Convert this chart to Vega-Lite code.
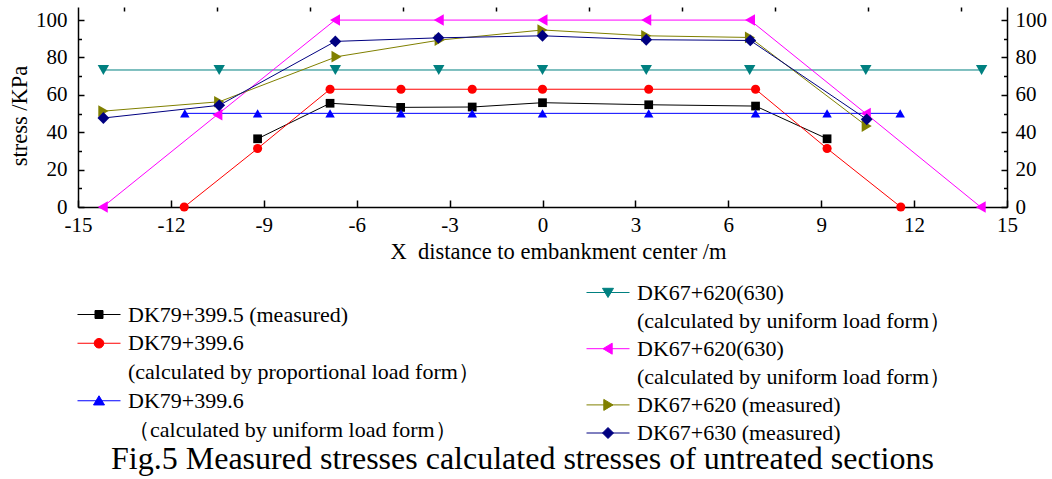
{
  "$schema": "https://vega.github.io/schema/vega-lite/v6.json",
  "width": 929,
  "height": 200,
  "autosize": {"type": "none"},
  "padding": {"left": 78, "top": 7, "right": 45, "bottom": 272},
  "background": "white",
  "title": {
    "text": "Fig.5 Measured stresses calculated stresses of untreated sections",
    "orient": "bottom",
    "anchor": "middle",
    "baseline": "alphabetic",
    "offset": 24,
    "dx": -20,
    "font": "Liberation Serif",
    "fontSize": 32,
    "fontWeight": "normal",
    "color": "black"
  },
  "config": {
    "view": {"stroke": null},
    "axis": {
      "grid": false,
      "labelFlush": false,
      "labelFont": "Liberation Serif",
      "labelFontSize": 21,
      "labelColor": "black",
      "titleFont": "Liberation Serif",
      "titleFontSize": 22.5,
      "titleFontWeight": "normal",
      "titleColor": "black",
      "domainColor": "black",
      "domainWidth": 1.5,
      "tickColor": "black",
      "tickWidth": 1.5
    },
    "legend": {
      "labelFont": "Liberation Serif",
      "labelFontSize": 22,
      "labelColor": "black",
      "labelLimit": 700,
      "padding": 0
    }
  },
  "data": {
    "values": [
      {"series": "DK79+399.5 measured", "x": -9.2, "stress": 36.5},
      {"series": "DK79+399.5 measured", "x": -6.86, "stress": 55.5},
      {"series": "DK79+399.5 measured", "x": -4.58, "stress": 53.3},
      {"series": "DK79+399.5 measured", "x": -2.27, "stress": 53.5},
      {"series": "DK79+399.5 measured", "x": 0, "stress": 55.8},
      {"series": "DK79+399.5 measured", "x": 3.43, "stress": 54.7},
      {"series": "DK79+399.5 measured", "x": 6.88, "stress": 54.0},
      {"series": "DK79+399.5 measured", "x": 9.19, "stress": 36.5},

      {"series": "DK79+399.6 proportional", "x": -11.57, "stress": 0},
      {"series": "DK79+399.6 proportional", "x": -9.2, "stress": 31.3},
      {"series": "DK79+399.6 proportional", "x": -6.86, "stress": 63},
      {"series": "DK79+399.6 proportional", "x": -4.57, "stress": 63},
      {"series": "DK79+399.6 proportional", "x": -2.27, "stress": 63},
      {"series": "DK79+399.6 proportional", "x": 0, "stress": 63},
      {"series": "DK79+399.6 proportional", "x": 3.43, "stress": 63},
      {"series": "DK79+399.6 proportional", "x": 6.88, "stress": 63},
      {"series": "DK79+399.6 proportional", "x": 9.19, "stress": 31.3},
      {"series": "DK79+399.6 proportional", "x": 11.57, "stress": 0},

      {"series": "DK79+399.6 uniform", "x": -11.55, "stress": 50.1},
      {"series": "DK79+399.6 uniform", "x": -9.2, "stress": 50.1},
      {"series": "DK79+399.6 uniform", "x": -6.86, "stress": 50.1},
      {"series": "DK79+399.6 uniform", "x": -4.57, "stress": 50.1},
      {"series": "DK79+399.6 uniform", "x": -2.27, "stress": 50.1},
      {"series": "DK79+399.6 uniform", "x": 0, "stress": 50.1},
      {"series": "DK79+399.6 uniform", "x": 3.43, "stress": 50.1},
      {"series": "DK79+399.6 uniform", "x": 6.88, "stress": 50.1},
      {"series": "DK79+399.6 uniform", "x": 9.19, "stress": 50.1},
      {"series": "DK79+399.6 uniform", "x": 11.55, "stress": 50.1},

      {"series": "DK67+620(630) calc 1", "x": -14.18, "stress": 73.3},
      {"series": "DK67+620(630) calc 1", "x": -10.44, "stress": 73.3},
      {"series": "DK67+620(630) calc 1", "x": -6.69, "stress": 73.3},
      {"series": "DK67+620(630) calc 1", "x": -3.35, "stress": 73.3},
      {"series": "DK67+620(630) calc 1", "x": 0, "stress": 73.3},
      {"series": "DK67+620(630) calc 1", "x": 3.35, "stress": 73.3},
      {"series": "DK67+620(630) calc 1", "x": 6.69, "stress": 73.3},
      {"series": "DK67+620(630) calc 1", "x": 10.44, "stress": 73.3},
      {"series": "DK67+620(630) calc 1", "x": 14.18, "stress": 73.3},

      {"series": "DK67+620(630) calc 2", "x": -14.2, "stress": 0},
      {"series": "DK67+620(630) calc 2", "x": -10.5, "stress": 49.4},
      {"series": "DK67+620(630) calc 2", "x": -6.7, "stress": 100},
      {"series": "DK67+620(630) calc 2", "x": -3.35, "stress": 100},
      {"series": "DK67+620(630) calc 2", "x": 0, "stress": 100},
      {"series": "DK67+620(630) calc 2", "x": 3.35, "stress": 100},
      {"series": "DK67+620(630) calc 2", "x": 6.7, "stress": 100},
      {"series": "DK67+620(630) calc 2", "x": 10.44, "stress": 50},
      {"series": "DK67+620(630) calc 2", "x": 14.15, "stress": 0},

      {"series": "DK67+620 measured", "x": -14.18, "stress": 51.3},
      {"series": "DK67+620 measured", "x": -10.44, "stress": 56.3},
      {"series": "DK67+620 measured", "x": -6.65, "stress": 80.4},
      {"series": "DK67+620 measured", "x": -3.32, "stress": 89.3},
      {"series": "DK67+620 measured", "x": 0, "stress": 94.7},
      {"series": "DK67+620 measured", "x": 3.35, "stress": 91.6},
      {"series": "DK67+620 measured", "x": 6.7, "stress": 90.7},
      {"series": "DK67+620 measured", "x": 10.47, "stress": 43.3},

      {"series": "DK67+630 measured", "x": -14.18, "stress": 47.6},
      {"series": "DK67+630 measured", "x": -10.44, "stress": 54.4},
      {"series": "DK67+630 measured", "x": -6.69, "stress": 88.6},
      {"series": "DK67+630 measured", "x": -3.36, "stress": 90.5},
      {"series": "DK67+630 measured", "x": 0, "stress": 91.6},
      {"series": "DK67+630 measured", "x": 3.35, "stress": 89.5},
      {"series": "DK67+630 measured", "x": 6.71, "stress": 89.1},
      {"series": "DK67+630 measured", "x": 10.47, "stress": 46.9}
    ]
  },
  "layer": [
    {
      "transform": [{"filter": {"field": "series", "oneOf": ["DK79+399.5 measured", "DK79+399.6 proportional", "DK79+399.6 uniform"]}}],
      "encoding": {
        "color": {
          "field": "series",
          "type": "nominal",
          "scale": {
            "domain": ["DK79+399.5 measured", "DK79+399.6 proportional", "note A1", "DK79+399.6 uniform", "note A2"],
            "range": ["#000000", "#ff0000", "#ffffff", "#0000ff", "#ffffff"]
          },
          "legend": {
            "orient": "none",
            "legendX": 10,
            "legendY": 296.5,
            "title": null,
            "symbolSize": 4,
            "symbolStrokeWidth": 1,
            "labelOffset": 18,
            "rowPadding": 6.75,
            "labelExpr": "['DK79+399.5 (measured)', 'DK79+399.6', '(calculated by proportional load form）', 'DK79+399.6', '（calculated by uniform load form）'][datum.index]",
            "encode": {
              "symbols": {
                "update": {
                  "shape": {"signal": "['M-21.5,0H21.5M-4,-4H4V4H-4Z', 'M-21.5,0H21.5M-4.8,0A4.8,4.8 0 1,0 4.8,0A4.8,4.8 0 1,0 -4.8,0Z', 'M0,0', 'M-21.5,0H21.5M0,-5L5.5,4.2H-5.5Z', 'M0,0'][datum.index]"},
                  "fill": {"signal": "['#000000', '#ff0000', 'transparent', '#0000ff', 'transparent'][datum.index]"},
                  "stroke": {"signal": "['#000000', '#ff0000', 'transparent', '#0000ff', 'transparent'][datum.index]"},
                  "strokeWidth": {"value": 1},
                  "opacity": {"value": 1},
                  "size": {"value": 4}
                }
              }
            }
          }
        }
      },
      "resolve": {"axis": {"x": "independent", "y": "independent"}},
      "layer": [
        {
          "mark": {"type": "line", "strokeWidth": 1},
          "encoding": {
            "x": {
              "field": "x", "type": "quantitative",
              "scale": {"domain": [-15, 15], "nice": false, "zero": false},
              "axis": {
                "values": [-15, -12, -9, -6, -3, 0, 3, 6, 9, 12, 15],
                "labelExpr": "'' + datum.value",
                "tickSize": -7,
                "labelPadding": 14,
                "title": "X\u00a0 distance to embankment center /m",
                "titleX": 480,
                "titleY": 51,
                "titleBaseline": "alphabetic",
                "titleAlign": "center"
              }
            },
            "y": {
              "field": "stress", "type": "quantitative",
              "scale": {"domain": [0, 107], "nice": false},
              "axis": {
                "orient": "left",
                "values": [0, 20, 40, 60, 80, 100],
                "tickSize": -6,
                "labelPadding": 17,
                "title": "stress /KPa",
                "titleX": -52,
                "titleY": 108.5,
                "titleAngle": 270,
                "titleBaseline": "alphabetic",
                "titleAlign": "center"
              }
            }
          }
        },
        {
          "mark": {"type": "point", "filled": true, "opacity": 1},
          "encoding": {
            "x": {
              "field": "x", "type": "quantitative",
              "scale": {"domain": [-15, 15], "nice": false, "zero": false},
              "axis": {
                "values": [-13.5, -10.5, -7.5, -4.5, -1.5, 1.5, 4.5, 7.5, 10.5, 13.5],
                "tickSize": -4,
                "labels": false,
                "domain": false,
                "title": null
              }
            },
            "y": {
              "field": "stress", "type": "quantitative",
              "scale": {"domain": [0, 107], "nice": false},
              "axis": {
                "orient": "left",
                "values": [10, 30, 50, 70, 90],
                "tickSize": -3.5,
                "labels": false,
                "domain": false,
                "title": null
              }
            },
            "shape": {
              "field": "series", "type": "nominal", "legend": null,
              "scale": {
                "domain": ["DK79+399.5 measured", "DK79+399.6 proportional", "DK79+399.6 uniform"],
                "range": ["square", "circle", "triangle-up"]
              }
            },
            "size": {
              "field": "series", "type": "nominal", "legend": null,
              "scale": {
                "domain": ["DK79+399.5 measured", "DK79+399.6 proportional", "DK79+399.6 uniform"],
                "range": [76, 90, 130]
              }
            }
          }
        }
      ]
    },
    {
      "transform": [{"filter": {"field": "series", "oneOf": ["DK67+620(630) calc 1", "DK67+620(630) calc 2", "DK67+620 measured", "DK67+630 measured"]}}],
      "encoding": {
        "color": {
          "field": "series",
          "type": "nominal",
          "scale": {
            "domain": ["DK67+620(630) calc 1", "note B1", "DK67+620(630) calc 2", "note B2", "DK67+620 measured", "DK67+630 measured"],
            "range": ["#008080", "#ffffff", "#ff00ff", "#ffffff", "#808000", "#000080"]
          },
          "legend": {
            "orient": "none",
            "legendX": 519,
            "legendY": 274.5,
            "title": null,
            "symbolSize": 4,
            "symbolStrokeWidth": 1,
            "labelOffset": 18,
            "rowPadding": 6.1,
            "labelExpr": "['DK67+620(630)', '\u2009(calculated by uniform load form）', 'DK67+620(630)', '\u2009(calculated by uniform load form）', 'DK67+620 (measured)', 'DK67+630 (measured)'][datum.index]",
            "encode": {
              "symbols": {
                "update": {
                  "shape": {"signal": "['M-21.5,0H21.5M0,5L5.5,-4.2H-5.5Z', 'M0,0', 'M-21.5,0H21.5M-5,0L4.2,-5.5V5.5Z', 'M0,0', 'M-21.5,0H21.5M5,0L-4.2,-5.5V5.5Z', 'M-21.5,0H21.5M-5.5,0L0,-5.5L5.5,0L0,5.5Z'][datum.index]"},
                  "fill": {"signal": "['#008080', 'transparent', '#ff00ff', 'transparent', '#808000', '#000080'][datum.index]"},
                  "stroke": {"signal": "['#008080', 'transparent', '#ff00ff', 'transparent', '#808000', '#000080'][datum.index]"},
                  "strokeWidth": {"value": 1},
                  "opacity": {"value": 1},
                  "size": {"value": 4}
                }
              }
            }
          }
        }
      },
      "resolve": {"axis": {"x": "independent", "y": "independent"}},
      "layer": [
        {
          "mark": {"type": "line", "strokeWidth": 1},
          "encoding": {
            "x": {"field": "x", "type": "quantitative", "scale": {"domain": [-15, 15], "nice": false, "zero": false}, "axis": null},
            "y": {
              "field": "stress", "type": "quantitative",
              "scale": {"domain": [0, 107], "nice": false},
              "axis": {
                "orient": "right",
                "values": [0, 20, 40, 60, 80, 100],
                "tickSize": -6,
                "labelPadding": 14,
                "title": null
              }
            }
          }
        },
        {
          "mark": {"type": "point", "filled": true, "opacity": 1},
          "encoding": {
            "x": {"field": "x", "type": "quantitative", "scale": {"domain": [-15, 15], "nice": false, "zero": false}, "axis": null},
            "y": {
              "field": "stress", "type": "quantitative",
              "scale": {"domain": [0, 107], "nice": false},
              "axis": {
                "orient": "right",
                "values": [10, 30, 50, 70, 90],
                "tickSize": -3.5,
                "labels": false,
                "domain": false,
                "title": null
              }
            },
            "shape": {
              "field": "series", "type": "nominal", "legend": null,
              "scale": {
                "domain": ["DK67+620(630) calc 1", "DK67+620(630) calc 2", "DK67+620 measured", "DK67+630 measured"],
                "range": ["triangle-down", "triangle-left", "triangle-right", "diamond"]
              }
            },
            "size": {
              "field": "series", "type": "nominal", "legend": null,
              "scale": {
                "domain": ["DK67+620(630) calc 1", "DK67+620(630) calc 2", "DK67+620 measured", "DK67+630 measured"],
                "range": [130, 140, 140, 130]
              }
            }
          }
        }
      ]
    }
  ],
  "resolve": {
    "scale": {"color": "independent", "shape": "independent", "size": "independent"},
    "axis": {"x": "independent", "y": "independent"}
  }
}
